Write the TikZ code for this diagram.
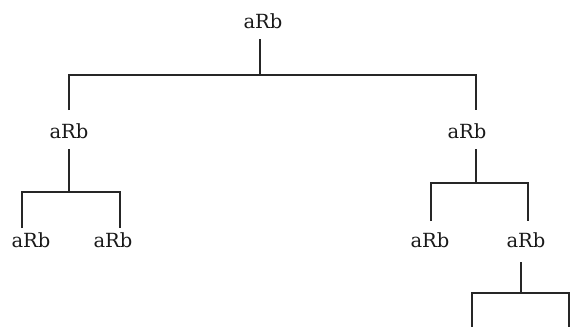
\documentclass[tikz,border=0pt]{standalone}
\usepackage{fontspec}
\setmainfont{DejaVu Serif}

\begin{document}
\begin{tikzpicture}[x=1pt, y=-1pt, line width=1.7pt, color=black!85,
    rel/.style={font=\fontsize{19.5}{21}\selectfont, inner sep=0pt, text=black!90}]
      \useasboundingbox (0,0) rectangle (571,327);

      % Draw the relation labels
      \node[rel] (root) at (263,21) {aRb};
      \node[rel] (left) at (69,131) {aRb};
      \node[rel] (right) at (467,131) {aRb};
      \node[rel] (leftA) at (31,240) {aRb};
      \node[rel] (leftB) at (113,240) {aRb};
      \node[rel] (rightA) at (430,240) {aRb};
      \node[rel] (rightB) at (526,240) {aRb};

      % Ends of the stems and legs
      \coordinate (rootTop) at (260,39);
      \coordinate (rootBar) at (260,75);
      \coordinate (leftLeg) at (69,110);
      \coordinate (rightLeg) at (476,110);
      \coordinate (leftTop) at (69,149);
      \coordinate (leftBar) at (69,192);
      \coordinate (leftALeg) at (22,228);
      \coordinate (leftBLeg) at (120,228);
      \coordinate (rightTop) at (476,149);
      \coordinate (rightBar) at (476,183);
      \coordinate (rightALeg) at (431,221);
      \coordinate (rightBLeg) at (528,221);
      \coordinate (rightBTop) at (521,262);
      \coordinate (rightBBar) at (521,293);
      \coordinate (nextA) at (472,327);
      \coordinate (nextB) at (569,327);

      % Draw the branches
      \draw (rootTop) -- (rootBar);
      \draw (leftLeg) -- (leftLeg |- rootBar) -- (rightLeg |- rootBar) -- (rightLeg);
      \draw (leftTop) -- (leftBar);
      \draw (leftALeg) -- (leftALeg |- leftBar) -- (leftBLeg |- leftBar) -- (leftBLeg);
      \draw (rightTop) -- (rightBar);
      \draw (rightALeg) -- (rightALeg |- rightBar) -- (rightBLeg |- rightBar) -- (rightBLeg);
      \draw (rightBTop) -- (rightBBar);
      \draw (nextA) -- (nextA |- rightBBar) -- (nextB |- rightBBar) -- (nextB);
  \end{tikzpicture}
\end{document}
